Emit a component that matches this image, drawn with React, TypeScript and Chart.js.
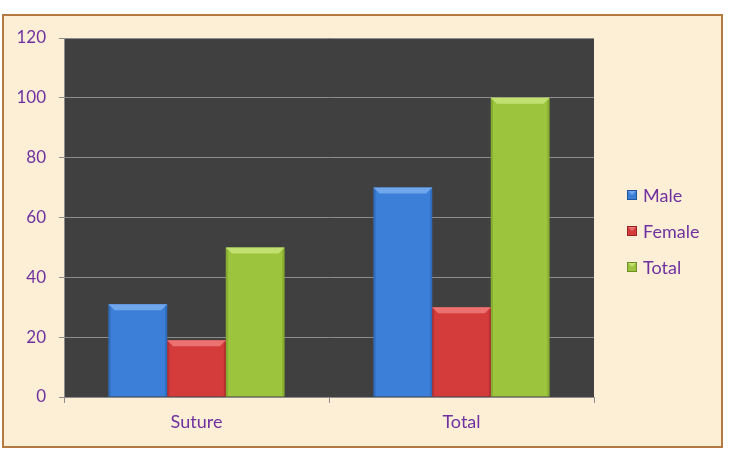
import React, { useEffect, useRef } from "react";
import { Chart, registerables } from "chart.js";

Chart.register(...registerables);

const categories = ["Suture", "Total"];
const maleValues = [31, 70];
const femaleValues = [19, 30];
const totalValues = [50, 100];
const seriesLabels = ["Male", "Female", "Total"];
const yTicks = [0, 20, 40, 60, 80, 100, 120];

const FONT = "Lato, 'Open Sans', sans-serif";
const TEXT = "#7030a0";
const COLORS = [
  { base: "#3b7fd8", dark: "#21569e", light: "#6fa6ec" },
  { base: "#d43c3c", dark: "#9c2424", light: "#ec7272" },
  { base: "#9cc43c", dark: "#6d8e22", light: "#c2e070" },
];

const framePlugin = {
  id: "frame",
  beforeDraw(chart: any) {
    const { ctx, chartArea } = chart;
    ctx.save();
    ctx.fillStyle = "#ffffff";
    ctx.fillRect(0, 0, chart.width, chart.height);
    ctx.fillStyle = "#fcefd6";
    ctx.fillRect(3, 15, 719, 432);
    ctx.strokeStyle = "#b57a42";
    ctx.lineWidth = 2;
    ctx.strokeRect(3, 15, 719, 432);
    ctx.fillStyle = "#404040";
    ctx.fillRect(chartArea.left, chartArea.top, chartArea.right - chartArea.left, chartArea.bottom - chartArea.top);
    ctx.restore();
  },
  afterDatasetsDraw(chart: any) {
    const { ctx } = chart;
    ctx.save();
    chart.data.datasets.forEach((ds: any, di: number) => {
      const meta = chart.getDatasetMeta(di);
      const c = COLORS[di];
      meta.data.forEach((bar: any) => {
        const w = bar.width;
        const l = bar.x - w / 2;
        const r = bar.x + w / 2;
        const t = bar.y;
        const b = bar.base;
        const bev = 6;
        ctx.fillStyle = c.light;
        ctx.beginPath();
        ctx.moveTo(l, t);
        ctx.lineTo(r, t);
        ctx.lineTo(r - bev, t + bev);
        ctx.lineTo(l + bev, t + bev);
        ctx.closePath();
        ctx.fill();
        ctx.fillStyle = c.dark;
        ctx.globalAlpha = 0.45;
        ctx.fillRect(l, t + 2, 2, b - t - 2);
        ctx.fillRect(r - 2, t + 2, 2, b - t - 2);
        ctx.globalAlpha = 1;
      });
    });
    ctx.restore();
  },
  afterDraw(chart: any) {
    const { ctx } = chart;
    ctx.save();
    ctx.font = `18px ${FONT}`;
    ctx.textBaseline = "middle";
    chart.data.datasets.forEach((ds: any, i: number) => {
      const y = 195 + i * 36;
      const c = COLORS[i];
      ctx.fillStyle = c.base;
      ctx.fillRect(627, y - 5, 10, 10);
      ctx.fillStyle = c.light;
      ctx.beginPath();
      ctx.moveTo(627, y - 5);
      ctx.lineTo(637, y - 5);
      ctx.lineTo(632, y);
      ctx.closePath();
      ctx.fill();
      ctx.strokeStyle = c.dark;
      ctx.lineWidth = 1;
      ctx.strokeRect(627.5, y - 4.5, 9, 9);
      ctx.fillStyle = TEXT;
      ctx.fillText(ds.label, 643, y + 1);
    });
    ctx.restore();
  },
};

export default function App() {
  const ref = useRef<HTMLCanvasElement>(null);
  useEffect(() => {
    if (!ref.current) return;
    const mk = (i: number) => {
      const data = [maleValues, femaleValues, totalValues][i];
      return {
        label: seriesLabels[i],
        data,
        backgroundColor: COLORS[i].base,
        borderColor: COLORS[i].dark,
        borderWidth: 0,
        categoryPercentage: 0.664,
        barPercentage: 1,
      };
    };
    const chart = new Chart(ref.current, {
      type: "bar",
      data: { labels: categories, datasets: [mk(0), mk(1), mk(2)] },
      plugins: [framePlugin],
      options: {
        responsive: false,
        animation: false,
        layout: { padding: { top: 38, right: 135, left: 0, bottom: 0 } },
        plugins: { legend: { display: false }, tooltip: { enabled: false } },
        scales: {
          x: {
            offset: true,
            grid: {
              offset: true,
              drawOnChartArea: false,
              color: "#8c8c8c",
              tickLength: 6,
            },
            border: { color: "#8c8c8c" },
            ticks: { color: TEXT, font: { family: FONT, size: 18 }, padding: 8 },
            afterFit: (s: any) => {
              s.height = 53;
            },
          },
          y: {
            min: 0,
            max: 120,
            afterBuildTicks: (s: any) => {
              s.ticks = yTicks.map((v) => ({ value: v }));
            },
            grid: { color: "#8c8c8c", tickLength: 5 },
            border: { color: "#8c8c8c" },
            ticks: { color: TEXT, font: { family: FONT, size: 17 }, padding: 13 },
            afterFit: (s: any) => {
              s.width = 64;
            },
          },
        },
      },
    });
    return () => chart.destroy();
  }, []);
  return (
    <div style={{ position: "absolute", left: 0, top: 0, width: 729, height: 450 }}>
      <canvas ref={ref} width={729} height={450} style={{ width: 729, height: 450, display: "block" }} />
    </div>
  );
}
